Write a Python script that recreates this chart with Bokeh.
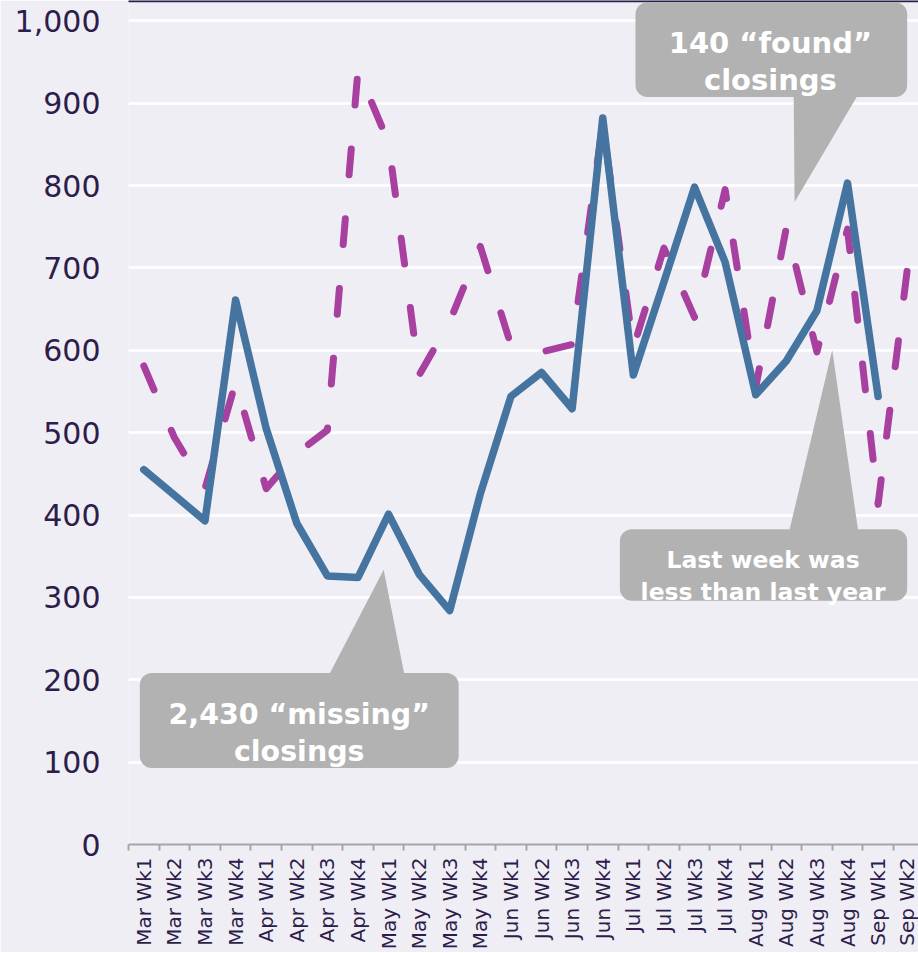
from bokeh.plotting import figure
from bokeh.models import Range1d, FixedTicker, NumeralTickFormatter, BoxAnnotation, Label
from bokeh.embed import file_html
from bokeh.resources import INLINE

# ---------------- data ----------------
weeks = ["Mar Wk1", "Mar Wk2", "Mar Wk3", "Mar Wk4",
         "Apr Wk1", "Apr Wk2", "Apr Wk3", "Apr Wk4",
         "May Wk1", "May Wk2", "May Wk3", "May Wk4",
         "Jun Wk1", "Jun Wk2", "Jun Wk3", "Jun Wk4",
         "Jul Wk1", "Jul Wk2", "Jul Wk3", "Jul Wk4",
         "Aug Wk1", "Aug Wk2", "Aug Wk3", "Aug Wk4",
         "Sep Wk1", "Sep Wk2"]

last_year = [581, 494, 432, 561, 432, 475, 503, 940, 852, 570, 635, 726,
             606, 598, 607, 875, 603, 724, 640, 795, 555, 749, 598, 747,
             413, 712]

this_year = [455, 424, 393, 661, 505, 390, 326, 324, 401, 328, 284, 426,
             544, 573, 529, 882, 570, 683, 798, 707, 546, 587, 648, 803,
             544]

y_ticks = [0, 100, 200, 300, 400, 500, 600, 700, 800, 900, 1000]

# ---------------- style ----------------
BG = "#f0eef5"
BLUE = "#44749f"
MAGENTA = "#a8409f"
GREY = "#b1b2b1"
DARK = "#2d1d4b"
AXIS = "#a6a6a6"
FONT = "DejaVu Sans"

p = figure(width=918, height=952, output_backend="svg", toolbar_location=None,
           x_range=Range1d(-0.5, 25.32), y_range=Range1d(0, 1024.6),
           min_border_left=128, min_border_right=0, min_border_top=0,
           min_border_bottom=107,
           background_fill_color=BG, border_fill_color=BG,
           outline_line_color=None)

# x axis: labels at category centres, ticks at boundaries
p.xaxis.ticker = FixedTicker(ticks=list(range(len(weeks))),
                             minor_ticks=[i - 0.5 for i in range(len(weeks) + 1)])
p.xaxis.major_label_overrides = {i: w for i, w in enumerate(weeks)}
p.xaxis.major_label_orientation = 3.14159265 / 2
p.xaxis.major_tick_line_color = None
p.xaxis.major_tick_in = 0
p.xaxis.major_tick_out = 0
p.xaxis.minor_tick_line_color = AXIS
p.xaxis.minor_tick_line_width = 2
p.xaxis.minor_tick_in = 0
p.xaxis.minor_tick_out = 6
p.xaxis.axis_line_color = AXIS
p.xaxis.axis_line_width = 2
p.xaxis.major_label_standoff = 7
p.xaxis.major_label_text_font = FONT
p.xaxis.major_label_text_font_size = "20px"
p.xaxis.major_label_text_color = DARK

# y axis
p.yaxis.ticker = FixedTicker(ticks=y_ticks)
p.yaxis.formatter = NumeralTickFormatter(format="0,0")
p.yaxis.axis_line_color = None
p.yaxis.major_tick_line_color = None
p.yaxis.minor_tick_line_color = None
p.yaxis.major_tick_in = 0
p.yaxis.major_tick_out = 0
p.yaxis.minor_tick_in = 0
p.yaxis.minor_tick_out = 0
p.yaxis.major_label_standoff = 28
p.yaxis.major_label_text_font = FONT
p.yaxis.major_label_text_font_size = "30px"
p.yaxis.major_label_text_color = DARK

p.xgrid.visible = False
p.ygrid.ticker = FixedTicker(ticks=y_ticks[1:])
p.ygrid.grid_line_color = "white"
p.ygrid.grid_line_width = 2.5

# thin dark rule along the top edge
p.add_layout(BoxAnnotation(left=-10, right=30, bottom=1022.4, top=1040,
                           fill_color=DARK, fill_alpha=1.0, line_color=None))

# ---------------- series ----------------
p.line(x=list(range(len(last_year))), y=last_year, line_color=MAGENTA,
       line_width=7, line_dash="26 44", line_cap="round", line_join="round")
p.line(x=list(range(len(this_year))), y=this_year, line_color=BLUE,
       line_width=7.5, line_cap="round", line_join="round")


# ---------------- callouts ----------------
def callout(left, right, bottom, top, tail_x, tail_y, lines, size):
    p.patch(x=tail_x, y=tail_y, fill_color=GREY, line_color=None, level="annotation")
    p.add_layout(BoxAnnotation(left=left, right=right, bottom=bottom, top=top,
                               fill_color=GREY, fill_alpha=1.0, line_color=None,
                               border_radius=12, level="annotation"))
    for txt, x, y in lines:
        p.add_layout(Label(x=x, y=y, text=txt, text_align="center",
                           text_baseline="alphabetic", text_font=FONT,
                           text_font_style="bold", text_font_size=size,
                           text_color="white"))


callout(16.07, 24.95, 907.4, 1022.4,
        [21.24, 23.42, 21.27], [915, 915, 780],
        [("140 \u201cfound\u201d", 20.48, 973), ("closings", 20.48, 927.5)], "29px")

callout(-0.13, 10.29, 93.0, 208.2,
        [5.97, 8.55, 7.84], [200, 200, 333.5],
        [("2,430 \u201cmissing\u201d", 5.08, 157.6), ("closings", 5.08, 112.4)], "28.5px")

callout(15.56, 24.95, 295.9, 382.8,
        [21.06, 23.37, 22.5], [375, 375, 600.2],
        [("Last week was", 20.24, 345.6), ("less than last year", 20.24, 307.1)], "23.5px")

open("out.html", "w").write(file_html(p, INLINE))
